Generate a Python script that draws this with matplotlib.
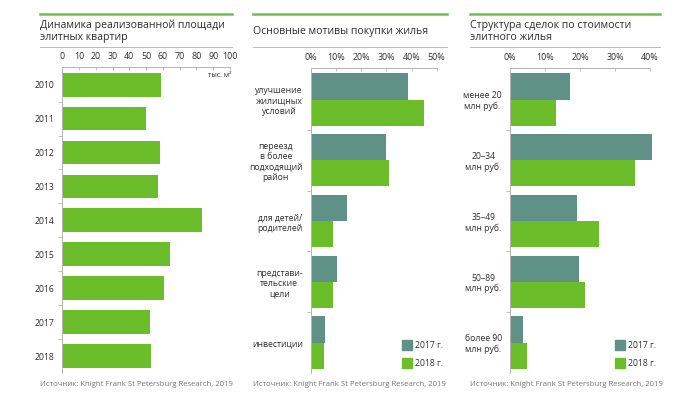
import numpy as np
import matplotlib.pyplot as plt
from matplotlib.lines import Line2D
from matplotlib.patches import Rectangle

plt.rcParams['font.family'] = ['Open Sans', 'DejaVu Sans']

# Данные
years = ['2010', '2011', '2012', '2013', '2014', '2015', '2016', '2017', '2018']
area = [59, 50, 58.5, 57, 83.5, 64.5, 60.5, 52, 53]

motives = ['улучшение\nжилищных\nусловий', 'переезд\nв более\nподходящий\nрайон',
           'для детей/\nродителей', 'представи-\nтельские\nцели', 'инвестиции']
motives_2017 = [38.5, 30, 14.5, 10.5, 5.5]
motives_2018 = [45, 31, 8.8, 8.8, 5.2]

price_groups = ['менее 20\nмлн руб.', '20–34\nмлн руб.', '35–49\nмлн руб.',
                '50–89\nмлн руб.', 'более 90\nмлн руб.']
price_2017 = [17, 40.5, 19.2, 19.6, 3.8]
price_2018 = [13, 35.7, 25.4, 21.5, 4.8]

pct_ticks_2 = [0, 10, 20, 30, 40, 50]
pct_ticks_3 = [0, 10, 20, 30, 40]

TEAL = '#5f9187'
GREEN = '#6bbd2a'
LINE_GREEN = '#6cc04a'
TXT = '#2e2e2e'
SPINE = '#b5b5b5'
source = 'Источник: Knight Frank St Petersburg Research, 2019'

W, H = 700, 398
fig = plt.figure(figsize=(7, 3.98), dpi=100)


def fx(px):
    return px / W


def fy(py):
    return 1 - py / H


def header(x0, x1, title):
    fig.add_artist(Line2D([fx(x0), fx(x1)], [fy(14), fy(14)], color=LINE_GREEN, lw=1.8))
    fig.add_artist(Line2D([fx(x0), fx(x1)], [fy(47), fy(47)], color='#9fd38a', lw=0.7))
    fig.text(fx(x0), fy(31.5), title, ha='left', va='center', fontsize=7.6,
             color=TXT, linespacing=1.15)
    fig.text(fx(x0), fy(385), source, ha='left', va='center', fontsize=5.55,
             color='#777777')


def style_axis(ax, xlim, ticks, fmt, n):
    ax.set_xlim(*xlim)
    ax.set_ylim(n - 0.5, -0.52)
    ax.xaxis.tick_top()
    ax.set_xticks(ticks)
    ax.set_xticklabels([fmt(t) for t in ticks])
    ax.tick_params(axis='x', direction='in', length=2, width=0.6, color=SPINE,
                   labelsize=6.4, labelcolor=TXT, pad=4)
    ax.set_yticks(np.arange(n))
    ax.set_yticks(np.arange(n - 1) + 0.5, minor=True)
    ax.tick_params(axis='y', which='major', length=0, labelsize=6.2,
                   labelcolor=TXT, pad=6)
    ax.tick_params(axis='y', which='minor', length=3, width=0.6, color=SPINE)
    for side in ['right', 'bottom']:
        ax.spines[side].set_visible(False)
    for side in ['top', 'left']:
        ax.spines[side].set_color(SPINE)
        ax.spines[side].set_linewidth(0.7)


def legend(x, y):
    for i, (c, lab) in enumerate([(TEAL, '2017 г.'), (GREEN, '2018 г.')]):
        yy = y + i * 18
        fig.add_artist(Rectangle((fx(x), fy(yy + 5)), fx(10), 10 / H, color=c))
        fig.text(fx(x + 13), fy(yy), lab, ha='left', va='center', fontsize=6.2, color=TXT)


# Панель 1
header(40, 232, 'Динамика реализованной площади\nэлитных квартир')
ax1 = fig.add_axes([fx(62.3), fy(373), fx(230 - 62.3), (373 - 67) / H])
y1 = np.arange(len(years))
ax1.barh(y1, area, height=0.7, color=GREEN)
style_axis(ax1, (0, 100), list(range(0, 101, 10)), lambda t: f'{t}', len(years))
ax1.set_yticklabels(years)
ax1.text(1.01, 0.985, 'тыс. м²', transform=ax1.transAxes, ha='right', va='top',
         fontsize=5, color=TXT)

# Панель 2
header(253, 447, 'Основные мотивы покупки жилья')
ax2 = fig.add_axes([fx(311), fy(373), fx(436.7 - 311), (373 - 68) / H])
y2 = np.arange(len(motives))
ax2.barh(y2 - 0.215, motives_2017, height=0.43, color=TEAL)
ax2.barh(y2 + 0.215, motives_2018, height=0.43, color=GREEN)
style_axis(ax2, (0, 50), pct_ticks_2, lambda t: f'{t}%', len(motives))
ax2.set_yticklabels(motives)
for lab in ax2.get_yticklabels():
    lab.set_multialignment('center')
legend(402, 345)

# Панель 3
header(470, 660, 'Структура сделок по стоимости\nэлитного жилья')
ax3 = fig.add_axes([fx(510), fy(373), fx(650 - 510), (373 - 68) / H])
y3 = np.arange(len(price_groups))
ax3.barh(y3 - 0.215, price_2017, height=0.43, color=TEAL, clip_on=False)
ax3.barh(y3 + 0.215, price_2018, height=0.43, color=GREEN)
style_axis(ax3, (0, 40), pct_ticks_3, lambda t: f'{t}%', len(price_groups))
ax3.set_yticklabels(price_groups)
for lab in ax3.get_yticklabels():
    lab.set_multialignment('center')
legend(615, 345)

fig.savefig('out.png', dpi=100, facecolor='white')
